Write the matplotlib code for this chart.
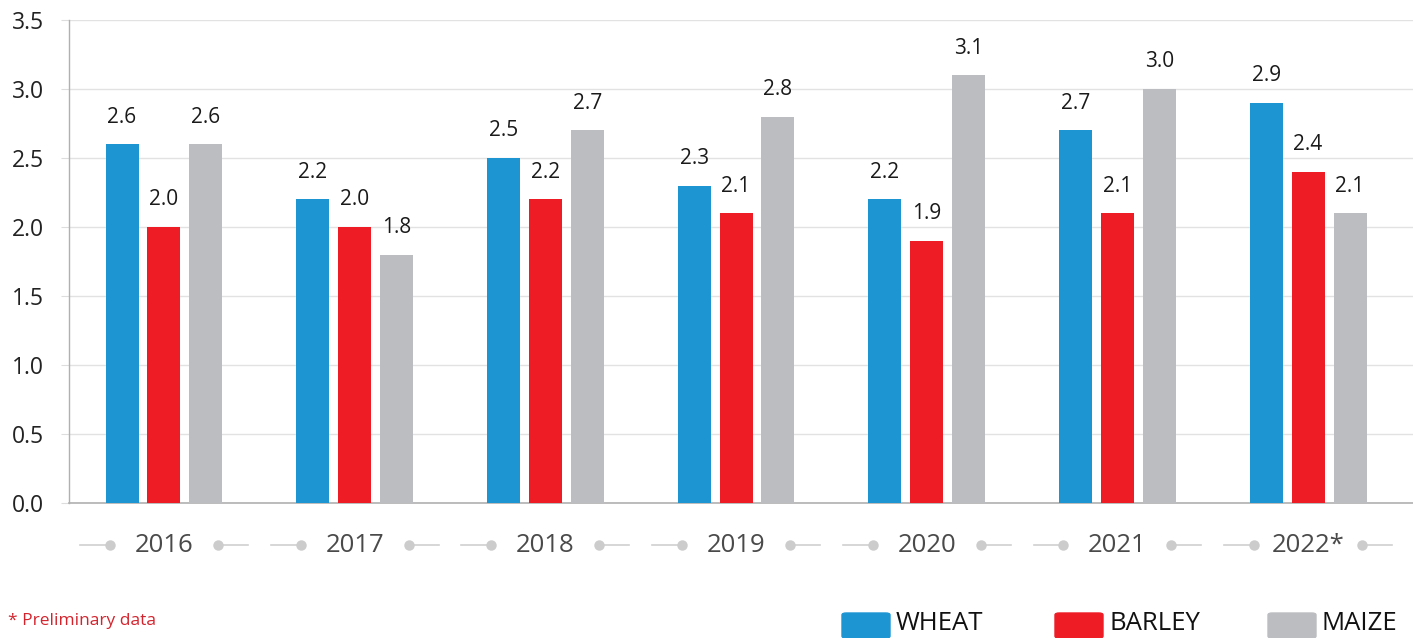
import matplotlib.pyplot as plt
import matplotlib.transforms as mtransforms
from matplotlib.patches import FancyBboxPatch
import numpy as np

plt.rcParams['font.family'] = ['Open Sans', 'DejaVu Sans']

years = ['2016', '2017', '2018', '2019', '2020', '2021', '2022*']
wheat = [2.6, 2.2, 2.5, 2.3, 2.2, 2.7, 2.9]
barley = [2.0, 2.0, 2.2, 2.1, 1.9, 2.1, 2.4]
maize = [2.6, 1.8, 2.7, 2.8, 3.1, 3.0, 2.1]
series = [('WHEAT', wheat, '#1e95d3'), ('BARLEY', barley, '#ee1c25'), ('MAIZE', maize, '#bcbdc0')]
yticks = [0.0, 0.5, 1.0, 1.5, 2.0, 2.5, 3.0, 3.5]

fig = plt.figure(figsize=(14.13, 6.38), dpi=100)
ax = fig.add_axes([69 / 1413, 1 - 503 / 638, 1 - 69 / 1413, (503 - 20) / 638])

x = np.arange(len(years))
width = 0.173
offset = 0.22
for i, (name, vals, color) in enumerate(series):
    xs = x + (i - 1) * offset
    ax.bar(xs, vals, width=width, color=color, zorder=3)
    for xi, v in zip(xs, vals):
        ax.annotate(f'{v:.1f}', (xi, v), xytext=(0, 12), textcoords='offset points',
                    ha='center', va='bottom', fontsize=15, color='#1a1a1a')

ax.set_xlim(-0.498, 6.55)
ax.set_ylim(0, 3.5)
ax.set_yticks(yticks)
ax.set_yticklabels([f'{t:.1f}' for t in yticks], fontsize=16.5, color='#222222')
ax.grid(axis='y', color='#e2e2e2', linewidth=1, zorder=0)
ax.tick_params(axis='y', length=6, color='#dddddd', pad=12)
ax.tick_params(axis='x', length=0, labelbottom=False)
for s in ['top', 'right']:
    ax.spines[s].set_visible(False)
ax.spines['left'].set_color('#b0b0b0')
ax.spines['bottom'].set_color('#b0b0b0')
ax.spines['left'].set_linewidth(1)
ax.spines['bottom'].set_linewidth(1.2)

# category labels with decorations
trans = mtransforms.blended_transform_factory(ax.transData, ax.transAxes)
ylab = -(545 - 503) / 483
for xi, lab in zip(x, years):
    ax.text(xi, ylab, lab, transform=trans, ha='center', va='center',
            fontsize=18.5, color='#4a4a4a', clip_on=False)
    for sgn in (-1, 1):
        ax.plot([xi + sgn * 0.283, xi + sgn * 0.44], [ylab, ylab], transform=trans,
                color='#d0d0d0', linewidth=1.2, clip_on=False)
        ax.plot([xi + sgn * 0.283], [ylab], 'o', transform=trans, color='#cccccc',
                markersize=6.5, clip_on=False)

fig.text(8 / 1413, 1 - 621 / 638, '* Preliminary data', color='#d3242e', fontsize=12.5,
         ha='left', va='center')

# legend
legx = [842, 1055, 1268]
for (name, vals, color), lx in zip(series, legx):
    fig.add_artist(FancyBboxPatch((lx / 1413, 0), 48 / 1413, 25 / 638,
                                  boxstyle='round,pad=0,rounding_size=0.003',
                                  transform=fig.transFigure, color=color, clip_on=False))
    fig.text((lx + 54) / 1413, 1 - 623 / 638, name, fontsize=18.5, color='#111111',
             ha='left', va='center')

fig.savefig('out.png', dpi=100)
